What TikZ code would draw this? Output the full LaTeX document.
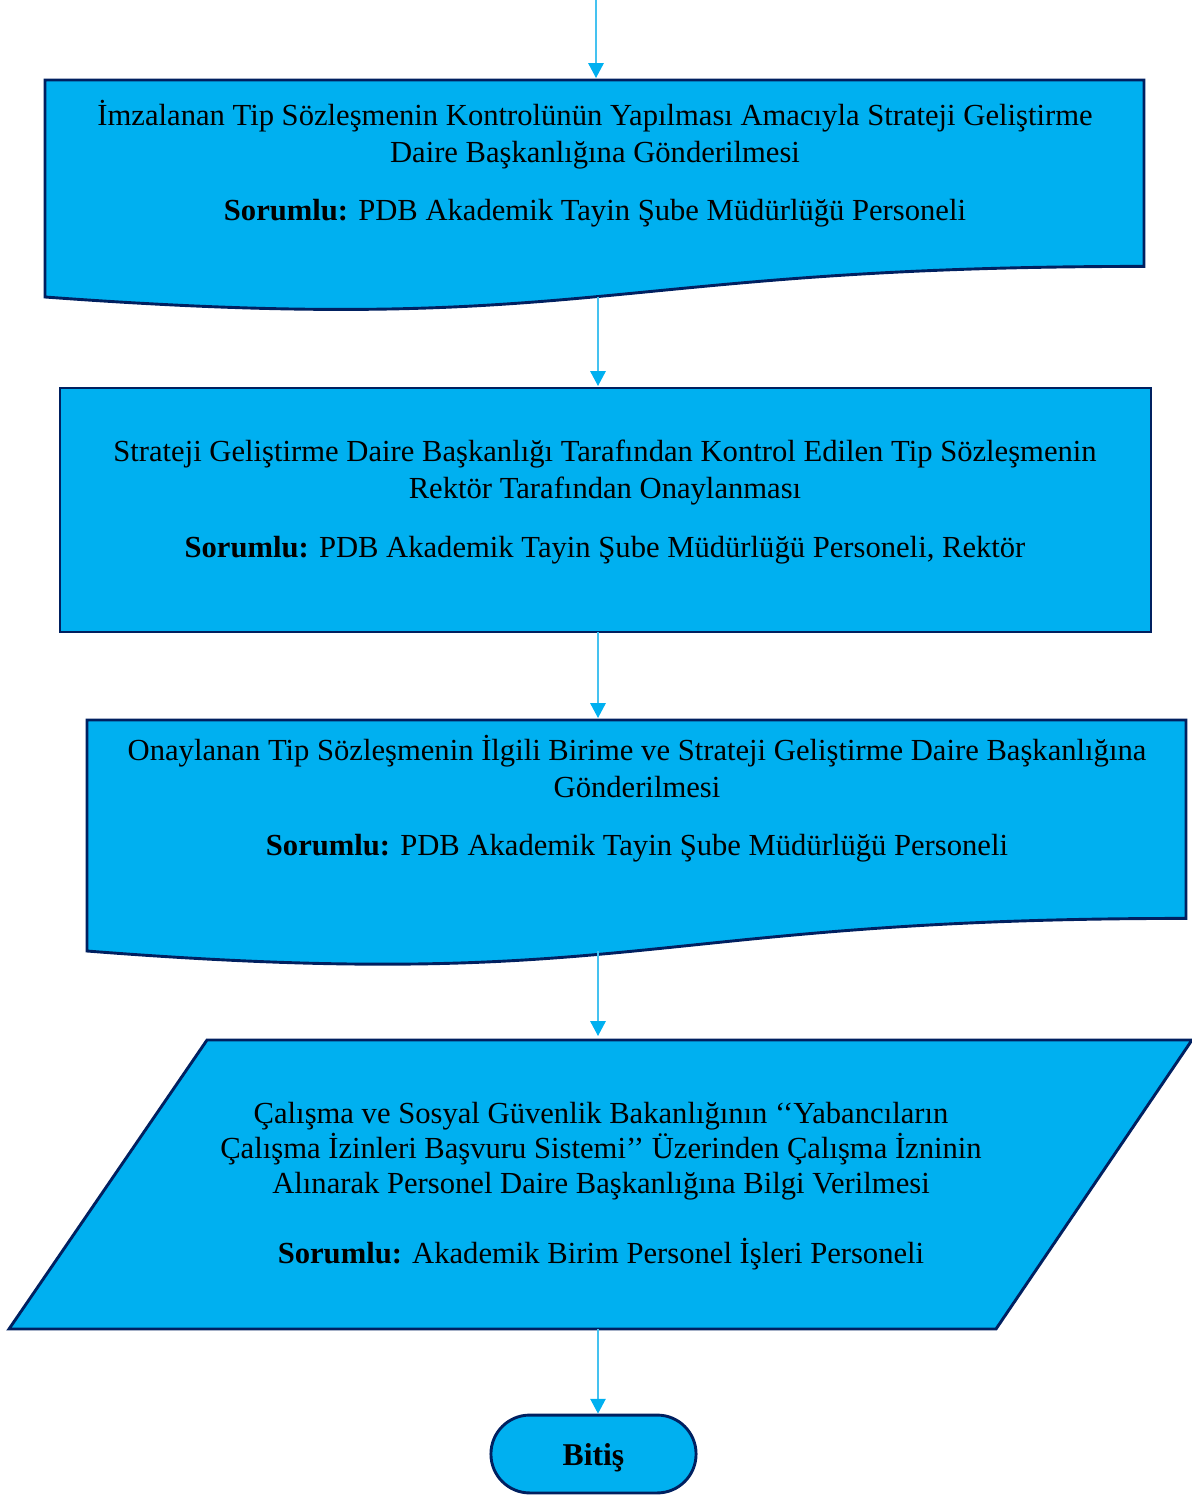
\documentclass[tikz,border=0pt]{standalone}
\usepackage{fontspec}
\setmainfont{Liberation Serif}
\usetikzlibrary{arrows.meta}
\definecolor{boxfill}{HTML}{00B0F0}
\definecolor{boxline}{HTML}{002060}
\definecolor{arrowcol}{HTML}{45C2F0}
\tikzset{
	boxA/.style={
		fill=boxfill, draw=boxline, line width=1.1pt
	},
	txtA/.style={
		align=center, inner sep=0pt, text=black,
		font={\fontsize{11.6}{14}\selectfont}
	},
	flow/.style={
		draw=arrowcol, line width=0.6pt,
		-{Triangle[length=5.6pt,width=5.8pt,color=boxfill]}
	},
}
\def\gapS{8pt}

\begin{document}
\begin{tikzpicture}[x=0.3788pt, y=-0.3788pt]
\useasboundingbox (0,0) rectangle (1192,1495);
% step 1
\draw[boxA] (45,80) -- (1144,80) -- (1144,266.4)
  .. controls (594.5,266.4) and (594.5,337.4) .. (45,297) -- cycle;
\node[txtA] (step1) at (595,164) {İmzalanan Tip Sözleşmenin Kontrolünün Yapılması Amacıyla Strateji Geliştirme\\
Daire Başkanlığına Gönderilmesi\\[\gapS]
\textbf{Sorumlu:} PDB Akademik Tayin Şube Müdürlüğü Personeli};
% step 2
\draw[boxA] (60,388) rectangle (1151,632);
\node[txtA] (step2) at (605,502) {Strateji Geliştirme Daire Başkanlığı Tarafından Kontrol Edilen Tip Sözleşmenin\\
Rektör Tarafından Onaylanması\\[\gapS]
\textbf{Sorumlu:} PDB Akademik Tayin Şube Müdürlüğü Personeli, Rektör};
% step 3
\draw[boxA] (87,720) -- (1186,720) -- (1186,918.4)
  .. controls (636.5,918.4) and (636.5,993.9) .. (87,951) -- cycle;
\node[txtA] (step3) at (637,799) {Onaylanan Tip Sözleşmenin İlgili Birime ve Strateji Geliştirme Daire Başkanlığına\\
Gönderilmesi\\[\gapS]
\textbf{Sorumlu:} PDB Akademik Tayin Şube Müdürlüğü Personeli};
% step 4
\draw[boxA] (207,1040) -- (1192,1040) -- (996,1329) -- (9,1329) -- cycle;
\node[txtA, font={\fontsize{11.6}{13.3}\selectfont}] (step4) at (601,1186) {Çalışma ve Sosyal Güvenlik Bakanlığının ‘‘Yabancıların\\
Çalışma İzinleri Başvuru Sistemi’’ Üzerinden Çalışma İzninin\\
Alınarak Personel Daire Başkanlığına Bilgi Verilmesi\\[13pt]
\textbf{Sorumlu:} Akademik Birim Personel İşleri Personeli};
% end
\node[boxA, rounded corners=14.7pt, minimum width=77.7pt, minimum height=29.5pt,
  inner sep=0pt, text depth=0pt, font={\fontsize{12}{14}\selectfont\bfseries}] (bitis) at (593.5,1454) {Bitiş};
% connectors
\coordinate (in1) at (596,0);   \coordinate (top1) at (596,78);
\coordinate (out1) at (598,297); \coordinate (top2) at (598,386);
\coordinate (out2) at (598,632); \coordinate (top3) at (598,718);
\coordinate (out3) at (598,951); \coordinate (top4) at (598,1036);
\coordinate (out4) at (598,1329);
\draw[flow] (in1) -- (top1);
\draw[flow] (out1) -- (top2);
\draw[flow] (out2) -- (top3);
\draw[flow] (out3) -- (top4);
\draw[flow] (out4) -- (bitis.north -| out4);
\end{tikzpicture}
\end{document}
